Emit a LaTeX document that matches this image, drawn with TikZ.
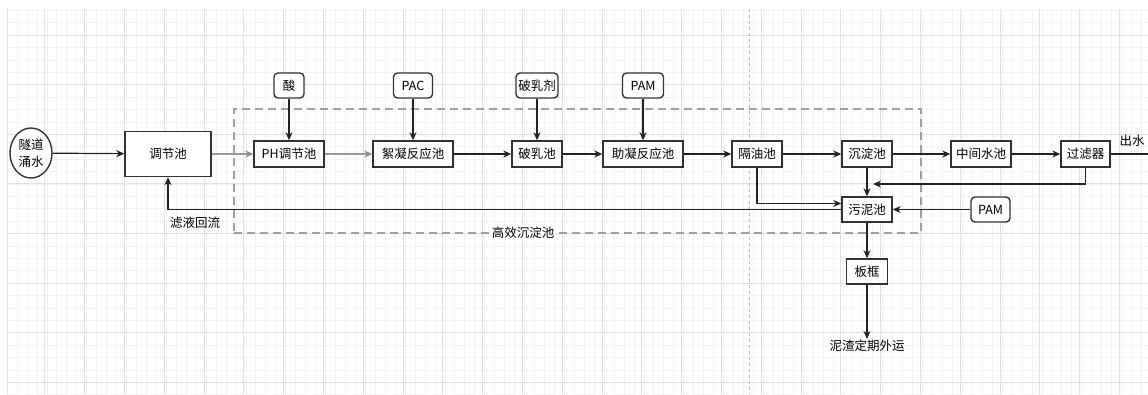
\documentclass[tikz,border=0pt]{standalone}
\usepackage{fontspec}
\setmainfont{Noto Sans CJK SC}
\usetikzlibrary{arrows.meta,shapes.geometric,calc}
\definecolor{minorgrid}{HTML}{F2F2F2}
\definecolor{majorgrid}{HTML}{E0E0E0}
\definecolor{linec}{HTML}{222222}
\definecolor{boxc}{HTML}{333333}
\begin{document}
\begin{tikzpicture}[x=1pt,y=-1pt,
  txt/.style={font=\fontsize{12.5}{17}\selectfont, text=black},
  box/.style={txt, draw=boxc, line width=1.4pt, fill=white, minimum height=26pt, inner sep=0pt},
  rbox/.style={box, rounded corners=4pt, minimum height=25pt},
  ell/.style={txt, ellipse, draw=boxc, line width=1.4pt, fill=white, inner sep=0pt, align=center, minimum width=42pt, minimum height=50pt},
  arr/.style={draw=linec, line width=1.2pt, -{Stealth[length=8pt,width=7pt,inset=2.5pt]}},
  garr/.style={arr, draw=gray!80, -{Stealth[length=8pt,width=7pt,inset=2.5pt,gray!90]}},
  plain/.style={draw=linec, line width=1.2pt},
  minorl/.style={draw=minorgrid, line width=0.6pt},
  majorl/.style={draw=majorgrid, line width=0.8pt},
  gxbox/.style={draw=gray!75, line width=2.4pt, dash pattern=on 8pt off 5pt}
]
\useasboundingbox (0,0) rectangle (1148,394);
\fill[white] (0,0) rectangle (1148,394);
% grid
\foreach \i in {0,...,114} {\draw[minorl] ({7+9.95*\i},9) -- ({7+9.95*\i},394);}
\foreach \k in {-2,...,29} {\draw[minorl] (7,{35+12.4*\k}) -- (1148,{35+12.4*\k});}
\foreach \i in {1,...,28} {\draw[majorl] ({5+39.8*\i},9) -- ({5+39.8*\i},394);}
\foreach \k in {0,...,7} {\draw[majorl] (7,{35+49.6*\k}) -- (1148,{35+49.6*\k});}
\draw[majorl] (7,9) -- (7,394);
\draw[draw=gray!55, line width=0.8pt, dash pattern=on 3pt off 3pt] (749,9) -- (749,394);

% dashed group box
\node[gxbox, minimum width=687pt, minimum height=124pt, inner sep=0pt] (gx) at (577.5,171) {};

% nodes
\node[ell] (src) at (31,153) {隧道\\涌水};
\node[box, minimum width=86pt, minimum height=45pt] (tj) at (168,154) {调节池};
\node[box, minimum width=70pt] (ph) at (289,154) {PH调节池};
\node[rbox, minimum width=30pt] (acid) at (289,85.5) {酸};
\node[box, minimum width=80pt] (xn) at (413,154) {絮凝反应池};
\node[rbox, minimum width=39pt] (pac) at (413,85.5) {PAC};
\node[box, minimum width=50pt] (pr) at (537,154) {破乳池};
\node[rbox, minimum width=42pt] (prj) at (537,85.5) {破乳剂};
\node[box, minimum width=80pt] (zn) at (643,154) {助凝反应池};
\node[rbox, minimum width=41pt] (pam1) at (643,85.5) {PAM};
\node[box, minimum width=50pt] (gy) at (757,154) {隔油池};
\node[box, minimum width=50pt] (cd) at (867,154) {沉淀池};
\node[box, minimum width=60pt] (zj) at (981,154) {中间水池};
\node[box, minimum width=49pt] (gl) at (1085.5,154) {过滤器};
\coordinate (out) at (1148,154);
\node[txt, inner sep=0pt] (outl) at (1132,141) {出水};
\node[box, minimum width=50pt, minimum height=25pt] (wn) at (867,209.5) {污泥池};
\node[rbox, minimum width=39pt] (pam2) at (990.5,209.5) {PAM};
\node[box, minimum width=41pt, minimum height=25pt] (bk) at (867,271.5) {板框};
\node[txt, inner sep=1pt] (ext) at (867,346) {泥渣定期外运};
\node[txt, inner sep=0pt] (lyhl) at (195,223) {滤液回流};
\node[txt, fill=white, inner sep=1pt] (gxl) at (523,233) {高效沉淀池};
\coordinate (fb) at (873,184);

% connectors
\draw[arr] (src) -- (tj);
\draw[garr] (tj) -- (ph);
\draw[arr] (acid) -- (ph);
\draw[garr] (ph) -- (xn);
\draw[arr] (pac) -- (xn);
\draw[arr] (xn) -- (pr);
\draw[arr] (prj) -- (pr);
\draw[arr] (pr) -- (zn);
\draw[arr] (pam1) -- (zn);
\draw[arr] (zn) -- (gy);
\draw[arr] (gy) -- (cd);
\draw[arr] (cd) -- (zj);
\draw[arr] (zj) -- (gl);
\draw[plain] (gl) -- (out);
\draw[arr] (cd) -- (wn);
\draw[arr] (gl.south) |- (fb);
\draw[arr] (gy.south) |- ([yshift=6pt]wn.west);
\draw[arr] (wn.west) -| (tj.south);
\draw[arr] (pam2) -- (wn);
\draw[arr] (wn) -- (bk);
\draw[arr] (bk) -- (ext);
\end{tikzpicture}
\end{document}
